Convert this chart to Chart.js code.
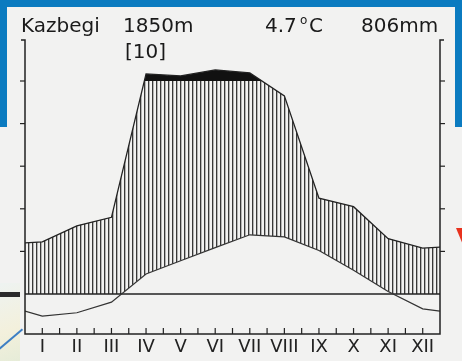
<!DOCTYPE html>
<html>
<head>
<meta charset="utf-8">
<script src="https://cdn.jsdelivr.net/npm/chart.js@4.4.1/dist/chart.umd.min.js"></script>
<style>
  body { margin: 0; background: #f2f2f1; }
  #wrap { position: relative; width: 462px; height: 361px; overflow: hidden; background: #f2f2f1; }
  .blue { position: absolute; background: #0b7bc0; }
  #photo { position: absolute; left: 0; top: 283px; width: 20px; height: 78px;
           background: linear-gradient(160deg, #eef3f1 0%, #f3f0dc 60%, #e6ecd8 100%); }
  #photo .bar { position: absolute; left: 0; top: 9px; width: 20px; height: 5px; background: #2b2b2b; }
  #photo .stroke { position: absolute; left: -4px; top: 55px; width: 30px; height: 2px; background: #3d7fc4; transform: rotate(-40deg); }
  #redmark { position: absolute; left: 456px; top: 228px; width: 10px; height: 24px; background: #e8321e;
             clip-path: polygon(0 0, 100% 0, 100% 100%); }
  canvas { position: absolute; left: 0; top: 0; }
</style>
</head>
<body>
<div id="wrap">
  <div class="blue" style="left:0;top:0;width:462px;height:7px"></div>
  <div class="blue" style="left:0;top:0;width:7px;height:127px"></div>
  <div class="blue" style="left:455px;top:0;width:7px;height:127px"></div>
  <div id="photo"><div class="bar"></div><div class="stroke"></div></div>
  <div id="redmark"></div>
  <canvas id="climateChart" width="462" height="361"></canvas>
</div>
<script>
// Kazbegi climate diagram (Walter-Lieth style)

const months = ['I', 'II', 'III', 'IV', 'V', 'VI', 'VII', 'VIII', 'IX', 'X', 'XI', 'XII'];
const tempC = [-5.2, -4.4, -1.9, 4.7, 7.8, 10.9, 13.9, 13.4, 10.2, 5.6, 0.6, -3.5];
const precipMm = [24.5, 32, 36, 133, 124, 152, 138, 93, 45, 41, 26, 21.5];
// values where the curves meet the left / right frame
const edgeTemp = [-4.0, -4.0];
const edgePrecip = [24, 22];
const sideTicks = [10, 20, 30, 40, 50];

const pageColor = '#f2f2f1';
const inkColor = '#222';

// 10 °C = 20 mm, above 100 mm the scale is 1/10
const precipToScale = (p) => p <= 100 ? p / 2 : 50 + (p - 100) / 20;

const buildPoints = (vals, edges, conv) => {
    const pts = [{ x: 0, y: conv(edges[0]) }];
    for (let i = 0; i < vals.length; i++) {
        pts.push({ x: i + 0.5, y: conv(vals[i]) });
    }
    pts.push({ x: 12, y: conv(edges[1]) });
    return pts;
};

const tempPoints = buildPoints(tempC, edgeTemp, v => v);
const precipPoints = buildPoints(precipMm, edgePrecip, precipToScale);

// vertical hatching
const makeHatch = () => {
    const c = document.createElement('canvas');
    c.width = 4;
    c.height = 4;
    const g = c.getContext('2d');
    g.fillStyle = 'rgba(35,35,35,0.9)';
    g.fillRect(0, 0, 1, 4);
    g.fillStyle = 'rgba(35,35,35,0.3)';
    g.fillRect(1, 0, 1, 4);
    return g.createPattern(c, 'repeat');
};

const line = (ctx, x1, y1, x2, y2) => {
    ctx.beginPath();
    ctx.moveTo(x1, y1);
    ctx.lineTo(x2, y2);
    ctx.stroke();
};

const axesPlugin = {
    id: 'climateAxes',
    afterDatasetsDraw(chart) {
        const { ctx, chartArea: a, scales: { x, y } } = chart;
        ctx.save();
        ctx.strokeStyle = inkColor;
        ctx.lineWidth = 1.5;
        ctx.beginPath();
        ctx.moveTo(a.left - 4, a.top);
        ctx.lineTo(a.left, a.top);
        ctx.lineTo(a.left, a.bottom);
        ctx.lineTo(a.right, a.bottom);
        ctx.lineTo(a.right, a.top);
        ctx.lineTo(a.right + 4, a.top);
        ctx.stroke();

        ctx.lineWidth = 1.2;
        sideTicks.forEach(v => {
            const py = y.getPixelForValue(v);
            line(ctx, a.left - 5, py, a.left, py);
            line(ctx, a.right, py, a.right + 5, py);
        });
        // half-month ticks on the bottom axis, pointing inwards
        for (let m = 0.5; m < 12; m += 0.5) {
            const px = x.getPixelForValue(m);
            line(ctx, px, a.bottom, px, a.bottom - 6);
        }

        ctx.fillStyle = inkColor;
        ctx.font = '18px "DejaVu Sans"';
        ctx.textAlign = 'center';
        ctx.textBaseline = 'alphabetic';
        months.forEach((m, i) => {
            ctx.fillText(m, x.getPixelForValue(i + 0.5), 352);
        });
        ctx.restore();
    },
    afterDraw(chart) {
        const ctx = chart.ctx;
        ctx.save();
        ctx.fillStyle = '#1a1a1a';
        ctx.textAlign = 'left';
        ctx.textBaseline = 'alphabetic';
        ctx.font = '20px "DejaVu Sans"';
        ctx.fillText('Kazbegi', 21, 32);
        ctx.fillText('1850m', 123, 32);
        ctx.fillText('[10]', 125, 58);
        ctx.fillText('4.7', 265, 32);
        ctx.fillText('C', 309, 32);
        ctx.fillText('806mm', 361, 32);
        ctx.font = '12px "DejaVu Sans"';
        ctx.fillText('o', 300, 24);
        ctx.restore();
    }
};

const hatch = makeHatch();

const datasets = [
    {
        label: 'Temperature',
        data: tempPoints,
        borderColor: '#333',
        borderWidth: 1.2,
        fill: false,
    },
    {
        label: 'Zero line',
        data: [{ x: 0, y: 0 }, { x: 12, y: 0 }],
        borderColor: inkColor,
        borderWidth: 1.5,
        backgroundColor: pageColor,
        fill: 'start',
    },
    {
        label: 'Precipitation',
        data: precipPoints,
        borderColor: inkColor,
        borderWidth: 1.3,
        fill: { target: { value: 50 }, above: '#111', below: 'rgba(0,0,0,0)' },
    },
    {
        label: 'Humid period',
        data: precipPoints,
        borderWidth: 0,
        borderColor: 'rgba(0,0,0,0)',
        fill: { target: 0, above: hatch, below: 'rgba(0,0,0,0)' },
    },
];

new Chart(document.getElementById('climateChart'), {
    type: 'line',
    data: { datasets: datasets },
    options: {
        responsive: false,
        animation: false,
        layout: { padding: { left: 25, right: 22, top: 40, bottom: 27 } },
        elements: { point: { radius: 0 }, line: { tension: 0 } },
        scales: {
            x: { type: 'linear', min: 0, max: 12, display: false },
            y: { type: 'linear', min: -40 / 4.26, max: 254 / 4.26, display: false },
        },
        plugins: {
            legend: { display: false },
            tooltip: { enabled: false },
        },
    },
    plugins: [axesPlugin],
});
</script>
</body>
</html>
